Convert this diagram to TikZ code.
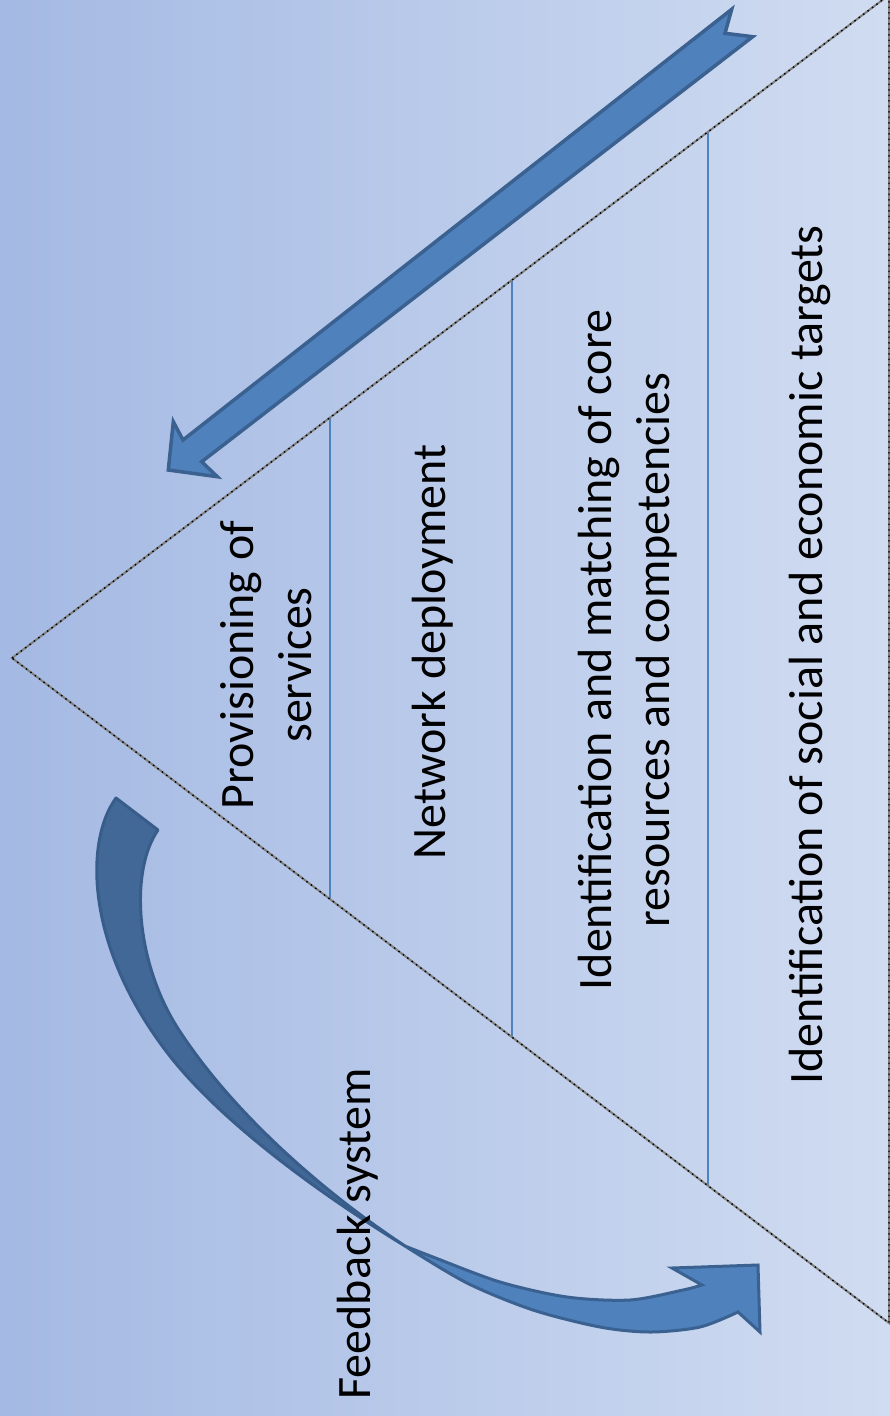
\documentclass[tikz,border=0pt]{standalone}
\usepackage{fontspec}
\setmainfont{Carlito}
\definecolor{fondg}{HTML}{A4B9E3}
\definecolor{fondd}{HTML}{D0DCF1}
\definecolor{bleu}{HTML}{4F81BD}
\definecolor{bleub}{HTML}{3A6190}
\definecolor{bleuf}{HTML}{416897}
\definecolor{bleufb}{HTML}{385D8A}
\tikzset{
  etiq/.style={rotate=90,align=center,inner sep=0pt,font=\fontsize{48}{58}\selectfont},
  trait/.style={color=bleu,line width=1.5},
  bord/.style={color=gray,line width=2},
  bordpt/.style={color=black,line width=1.4,dash pattern=on 1.5 off 4},
}
\begin{document}
\begin{tikzpicture}[x=1pt,y=-1pt]
\newcommand{\Tri}{(12,658) -- (889,-5) -- (889,1323) -- cycle}%triangle
\useasboundingbox (0,0) rectangle (890,1416);
\shade[left color=fondg,right color=fondd] (0,0) rectangle (890,1416);%fond degrade
\begin{scope}%traits verticaux
\clip \Tri;
\foreach \x in {330,512,708} \draw[trait] (\x,0) -- (\x,1416);
\end{scope}
\begin{scope}%bord du triangle
\clip (0,0) rectangle (890,1416);
\draw[bord] \Tri;
\draw[bordpt] \Tri;
\end{scope}
%fleche droite
\filldraw[fill=bleu,draw=bleub,line width=3.5,line join=miter]
  (731.7,9.3) -- (725,33.3) -- (752.7,36.7) -- (201.7,461.7) -- (217.3,476.7)
  -- (168.3,470) -- (173.3,421.7) -- (183,440) -- cycle;
%fleche courbe, partie sombre
\filldraw[fill=bleuf,draw=bleufb,line width=3,line join=round]
  (116,798) .. controls (84,842) and (85,950) .. (173,1060)
  .. controls (230,1130) and (330,1200) .. (405,1246)
  .. controls (320,1190) and (230,1110) .. (177,1027)
  .. controls (135,960) and (130,870) .. (158,830) -- cycle;
%fleche courbe, partie claire
\filldraw[fill=bleu,draw=bleub,line width=3,line join=miter]
  plot[smooth] coordinates {(405,1246) (433,1257) (500,1282) (567,1297) (630,1300)
    (683,1290) (702,1285)}
  -- (672,1268) -- (758,1265) -- (760,1332) -- (738,1312)
  -- plot[smooth] coordinates {(738,1312) (700,1327) (650,1332) (600,1327) (533,1310)
    (467,1283) (405,1246)}
  -- cycle;
\node[etiq] (prov) at (266,665) {Provisioning of\\services};
\node[etiq] (reseau) at (433,652) {Network deployment};
\node[etiq] (coeur) at (628,650) {Identification and matching of core\\resources and competencies};
\node[etiq] (cibles) at (810,655) {Identification of social and economic targets};
\node[etiq] (retour) at (358,1234) {Feedback system};
\end{tikzpicture}
\end{document}
